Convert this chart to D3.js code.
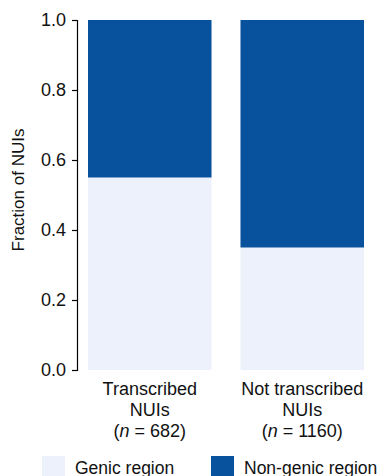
<!DOCTYPE html>
<html>
<head>
<meta charset="utf-8">
<script src="https://cdn.jsdelivr.net/npm/d3@7"></script>
<style>
  html, body { margin: 0; padding: 0; background: #fff; }
  svg { display: block; font-family: "Liberation Sans", Arial, Helvetica, sans-serif; }
</style>
</head>
<body>
<svg id="chart" width="385" height="476"></svg>
<script>
// Fraction of NUIs falling in genic vs non-genic regions
const groups = ["transcribed", "notTranscribed"];
const groupLines = [
  ["Transcribed", "NUIs", "682"],
  ["Not transcribed", "NUIs", "1160"]
];
const genicFraction = [0.55, 0.35];
const nonGenicFraction = [0.45, 0.65];
const seriesNames = ["Genic region", "Non-genic region"];
const seriesColors = ["#edf1fc", "#08519c"];
const yTicks = [0, 0.2, 0.4, 0.6, 0.8, 1.0];

const FONT = 18;
const INK = "#111";

const svg = d3.select("#chart");
const plot = { left: 77, top: 20, bottom: 370, x0: 88, x1: 364 };

const y = d3.scaleLinear().domain([0, 1]).range([plot.bottom, plot.top]);
const x = d3.scaleBand().domain(groups).range([plot.x0, plot.x1]).paddingInner(0.19).paddingOuter(0);

// stacked layers: genic at the bottom, non-genic above
const rows = groups.map((g, i) => ({ key: g, genic: genicFraction[i], nongenic: nonGenicFraction[i] }));
const stack = d3.stack().keys(["genic", "nongenic"]);
const layers = stack(rows);

svg.append("g").selectAll("g")
  .data(layers)
  .join("g")
  .attr("fill", (d, i) => seriesColors[i])
  .selectAll("rect")
  .data(d => d)
  .join("rect")
  .attr("x", d => x(d.data.key))
  .attr("width", x.bandwidth())
  .attr("y", d => y(d[1]))
  .attr("height", d => y(d[0]) - y(d[1]));

// y axis
const yAxis = d3.axisLeft(y).tickValues(yTicks).tickFormat(d3.format(".1f")).tickSize(5).tickPadding(6);
const ga = svg.append("g").attr("transform", `translate(${plot.left},0)`).call(yAxis);
ga.attr("font-size", FONT).attr("font-family", null);
ga.select(".domain").attr("stroke", "#000").attr("stroke-width", 1.2);
ga.selectAll(".tick line").attr("stroke", "#000").attr("stroke-width", 1.2);
ga.selectAll(".tick text").attr("fill", INK);

svg.append("text")
  .attr("transform", `translate(24,190) rotate(-90)`)
  .attr("text-anchor", "middle")
  .attr("font-size", 17)
  .attr("fill", INK)
  .text("Fraction of NUIs");

// category labels
groups.forEach((g, i) => {
  const cx = x(g) + x.bandwidth() / 2;
  const t = svg.append("text").attr("text-anchor", "middle").attr("font-size", FONT).attr("fill", INK);
  t.append("tspan").attr("x", cx).attr("y", 395).text(groupLines[i][0]);
  t.append("tspan").attr("x", cx).attr("y", 415.5).text(groupLines[i][1]);
  const t3 = t.append("tspan").attr("x", cx).attr("y", 437);
  t3.append("tspan").text("(");
  t3.append("tspan").attr("font-style", "italic").text("n");
  t3.append("tspan").text(" = " + groupLines[i][2] + ")");
});

// legend
const legendX = [42, 211];
const legend = svg.append("g").selectAll("g")
  .data(seriesNames)
  .join("g")
  .attr("transform", (d, i) => `translate(${legendX[i]},456)`);
legend.append("rect").attr("width", 23).attr("height", 22).attr("fill", (d, i) => seriesColors[i]);
legend.append("text").attr("x", 33).attr("y", 17.5).attr("font-size", 17.5).attr("fill", INK).text(d => d);
</script>
</body>
</html>
